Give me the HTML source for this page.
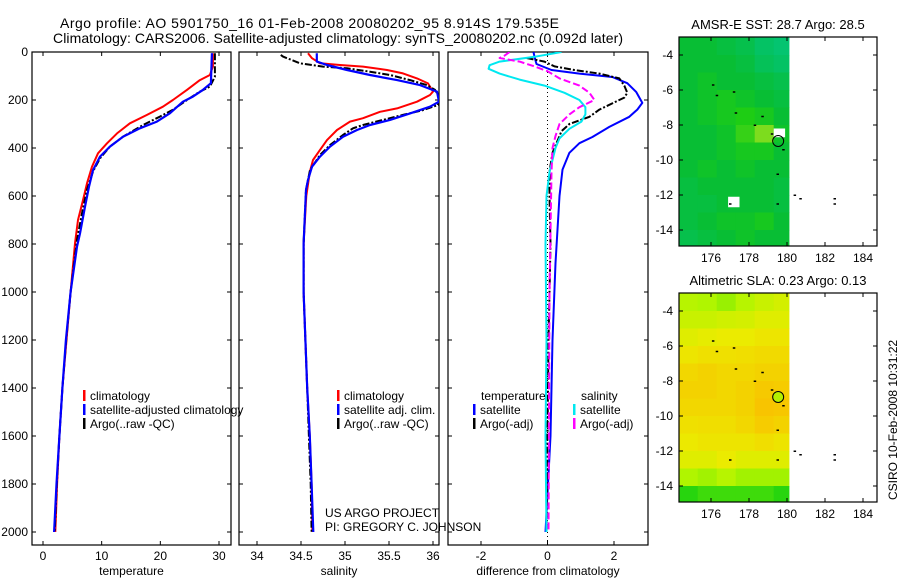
<!DOCTYPE html>
<html><head><meta charset="utf-8"><style>
html,body{margin:0;padding:0;background:#fff;}
svg{display:block;font-family:"Liberation Sans",sans-serif;}
</style></head><body>
<svg id="fig" width="900" height="580" viewBox="0 0 900 580">
<text x="60" y="28" font-size="14" textLength="499">Argo profile: AO 5901750_16 01-Feb-2008 20080202_95 8.914S 179.535E</text>
<text x="53" y="43" font-size="14" textLength="570">Climatology: CARS2006. Satellite-adjusted climatology: synTS_20080202.nc (0.092d later)</text>
<text x="325" y="517" font-size="12">US ARGO PROJECT</text>
<text x="325" y="531" font-size="12">PI: GREGORY C. JOHNSON</text>
<text transform="translate(897,420) rotate(-90)" text-anchor="middle" font-size="12">CSIRO 10-Feb-2008 10:31:22</text>
</svg>
<script>
// ---------- data ----------
const tClimD=[5,61,96,117,158,200,228,262,297,339,381,422,478,547,617,700,797,1000,1200,1400,1600,1800,2000];
const tClimV=[28.96,28.96,28.45,26.75,24.53,22.15,20.44,17.72,14.82,12.61,10.9,9.37,8.35,7.5,6.81,5.96,5.45,4.7,4.0,3.3,2.8,2.4,2.1];
const tSatD=[5,130,158,186,207,255,290,318,353,394,436,492,561,644,756,811,1000,1200,1400,1600,1800,2000];
const tSatV=[28.79,28.62,27.26,25.55,23.85,21.64,19.42,16.52,13.63,11.41,9.71,8.52,7.84,7.16,6.3,5.79,4.7,3.9,3.3,2.8,2.3,1.9];
const tArgD=[5,103,144,165,200,241,269,304,353,394,443,498,574,672,783,1000,1200,1400,1600,1800,2000];
const tArgV=[29.3,29.3,28.45,26.75,24.53,22.15,19.93,17.04,13.63,11.41,9.71,8.52,7.5,6.64,5.79,4.7,3.95,3.3,2.8,2.35,2.0];
const sClimD=[5,26,47,54,61,75,89,110,131,165,179,207,235,249,276,290,325,367,408,450,500,600,800,1000,1200,1400,1600,1800,2000];
const sClimV=[34.58,34.625,34.716,34.943,35.205,35.477,35.659,35.818,35.943,36.0,35.966,35.818,35.591,35.398,35.205,35.057,34.909,34.795,34.716,34.636,34.6,34.56,34.53,34.53,34.55,34.57,34.6,34.62,34.63];
const sSatD=[5,40,54,75,96,117,138,165,207,228,256,283,304,325,353,394,436,478,533,575,800,1000,1200,1400,1600,1800,2000];
const sSatV=[34.68,34.68,34.795,35.023,35.284,35.591,35.852,36.045,36.068,35.966,35.739,35.511,35.284,35.136,34.977,34.83,34.716,34.625,34.58,34.557,34.53,34.53,34.55,34.57,34.6,34.62,34.64];
const sArgD=[12,19,47,61,68,82,96,117,138,158,186,221,242,262,283,304,318,346,388,429,492,575,800,1000,1200,1400,1600,1800,2000];
const sArgV=[34.27,34.295,34.489,34.75,35.023,35.284,35.511,35.739,35.932,36.023,36.07,36.057,35.886,35.659,35.432,35.205,35.091,34.977,34.83,34.716,34.602,34.557,34.53,34.53,34.55,34.57,34.59,34.61,34.62];
const dTSatD=[0,20,50,75,90,104,130,167,212,240,270,312,354,380,420,490,600,880,1200,1600,2000];
const dTSatV=[-0.42,-0.39,-0.33,0.12,0.96,1.95,2.4,2.67,2.85,2.7,2.46,1.86,1.35,0.96,0.66,0.45,0.36,0.24,0.15,0.09,-0.06];
const dTArgD=[25,40,60,75,90,110,140,170,190,210,240,270,300,330,370,420,500,600,800,1200,2000];
const dTArgV=[-0.63,-0.09,0.21,0.81,1.56,2.16,2.31,2.4,2.31,2.01,1.56,1.26,0.66,0.42,0.3,0.15,0.06,0.06,0.09,0.03,-0.03];
const dSSatD=[0,20,40,55,70,90,115,140,170,200,230,260,290,320,360,400,450,500,600,800,1200,1600,2000];
const dSSatV=[0.42,-0.39,-1.44,-1.74,-1.77,-1.44,-0.84,-0.09,0.51,0.96,1.14,1.14,1.02,0.66,0.36,0.24,0.15,0.06,-0.03,-0.06,-0.03,-0.06,-0.03];
const dSArgD=[0,15,25,40,60,80,110,140,170,200,230,260,300,350,400,500,1000,2000];
const dSArgV=[-1.14,-1.29,-1.44,-0.84,-0.39,0,0.36,0.96,1.26,1.41,0.96,0.66,0.36,0.24,0.15,0.12,0.06,0.03];
const depthTicks=[0,200,400,600,800,1000,1200,1400,1600,1800,2000];
const tTicks=[0,10,20,30];
const sTicks=[34,34.5,35,35.5,36];
const dTicks=[-2,0,2];
const lonTicks=[176,178,180,182,184];
const latTicks=[-4,-6,-8,-10,-12,-14];
// map grids: rows from lat -3 (top) to -15, 1-degree cols from 174.3
const sstGrid=[
[0.45,0.45,0.4,0.35,0.25,0.2],[0.45,0.45,0.45,0.4,0.3,0.25],[0.45,0.5,0.45,0.45,0.4,0.35],
[0.45,0.5,0.55,0.5,0.45,0.4],[0.45,0.5,0.55,0.6,0.55,0.45],[0.45,0.45,0.5,0.65,0.8,0.5],
[0.45,0.45,0.5,0.55,0.55,0.45],[0.45,0.5,0.45,0.5,0.45,0.45],[0.4,0.45,0.45,0.45,0.45,0.4],
[0.4,0.4,0.45,0.45,0.45,0.4],[0.4,0.45,0.5,0.5,0.55,0.45],[0.35,0.4,0.45,0.5,0.45,0.45]];
const slaGrid=[
[0.38,0.35,0.3,0.38,0.45,0.5],[0.45,0.45,0.48,0.5,0.55,0.55],[0.55,0.58,0.6,0.6,0.65,0.65],
[0.65,0.7,0.7,0.72,0.75,0.75],[0.78,0.82,0.78,0.78,0.82,0.82],[0.82,0.82,0.78,0.82,0.9,0.88],
[0.78,0.78,0.78,0.82,0.95,0.92],[0.7,0.72,0.72,0.78,0.88,0.82],[0.62,0.66,0.66,0.66,0.72,0.66],
[0.55,0.55,0.6,0.55,0.55,0.55],[0.35,0.32,0.38,0.32,0.32,0.32],[0.05,0.1,0.1,0.1,0.1,0.05]];
const floatLon=179.535, floatLat=-8.914;
const coastLon=[176.1,176.3,177.2,177.3,178.3,178.7,179.2,179.8,179.5,177.0,179.5,180.4,180.7,182.5,182.5];
const coastLat=[-5.7,-6.3,-6.1,-7.3,-8.0,-7.5,-8.5,-9.4,-10.8,-12.5,-12.5,-12.0,-12.2,-12.2,-12.5];

// ---------- helpers ----------
const NS='http://www.w3.org/2000/svg';
const svg=document.getElementById('fig');
function mk(tag,attrs,parent){const e=document.createElementNS(NS,tag);for(const k in attrs)e.setAttribute(k,attrs[k]);(parent||svg).appendChild(e);return e;}
function lin(d0,d1,r0,r1){return v=>r0+(v-d0)*(r1-r0)/(d1-d0);}
const yDepth=lin(0,2000,52,532);

function panel(id,x0,x1,xs,xticks,label,showY){
  const g=mk('g',{});
  
  
  const cp=mk('clipPath',{id:'cp-'+id},g);mk('rect',{x:x0,y:52,width:x1-x0,height:493},cp);
  const fr=mk('rect',{x:x0,y:52,width:x1-x0,height:493,fill:'none',stroke:'#000','stroke-width':1.2},g);
  
  
  depthTicks.forEach(d=>{const y=yDepth(d);
    mk('line',{x1:x0,x2:x0+4,y1:y,y2:y,stroke:'#000'},g);mk('line',{x1:x1-4,x2:x1,y1:y,y2:y,stroke:'#000'},g);
    if(showY){const t=mk('text',{x:x0-4,y:y+4,'font-size':12,'text-anchor':'end'},g);t.textContent=d;
      
      }
  });
  xticks.forEach(v=>{const x=xs(v);
    mk('line',{x1:x,x2:x,y1:52,y2:56,stroke:'#000'},g);mk('line',{x1:x,x2:x,y1:541,y2:545,stroke:'#000'},g);
    const t=mk('text',{x:x,y:560,'font-size':12,'text-anchor':'middle'},g);t.textContent=v;
    
    
  });
  const xl=mk('text',{x:(x0+x1)/2,y:575,'font-size':12,'text-anchor':'middle'},g);xl.textContent=label;
  
  
  return g;
}
function series(g,id,xs,D,V,color,dash,w,name){
  const pts=D.map((d,i)=>xs(V[i]).toFixed(1)+','+yDepth(d).toFixed(1)).join(' ');
  const p=mk('polyline',{points:pts,fill:'none',stroke:color,'stroke-width':w||2,'clip-path':'url(#cp-'+id+')','stroke-linejoin':'round'},g);
  if(dash)p.setAttribute('stroke-dasharray',dash);
  
  
}
function legend(g,x,y,color,text,name){
  mk('rect',{x:x,y:y-10,width:2.5,height:11,fill:color},g);
  const t=mk('text',{x:x+7,y:y,'font-size':12},g);t.textContent=text;
  
  
}

// ---------- temperature panel ----------
const xT=lin(0,30,43,219);
const gT=panel('temperature',32,231,xT,tTicks,'temperature',true);
series(gT,'temperature',xT,tClimD,tClimV,'#f00',null,2,'temp-climatology-line');
series(gT,'temperature',xT,tArgD,tArgV,'#000','7,2,2,2',2,'temp-argo-line');
series(gT,'temperature',xT,tSatD,tSatV,'#0000ff',null,2.2,'temp-satellite-line');
legend(gT,83,400,'#f00','climatology','legend-climatology');
legend(gT,83,414,'#00f','satellite-adjusted climatology','legend-satellite-adjusted');
legend(gT,83,428,'#000','Argo(..raw -QC)','legend-argo');
// ---------- salinity panel ----------
const xS=lin(34,36,257,433);
const gS=panel('salinity',239,439,xS,sTicks,'salinity',false);
series(gS,'salinity',xS,sClimD,sClimV,'#f00',null,2,'sal-climatology-line');
series(gS,'salinity',xS,sArgD,sArgV,'#000','7,2,2,2',2,'sal-argo-line');
series(gS,'salinity',xS,sSatD,sSatV,'#0000ff',null,2.2,'sal-satellite-line');
legend(gS,337,400,'#f00','climatology','legend-sal-climatology');
legend(gS,337,414,'#00f','satellite adj. clim.','legend-sal-satellite');
legend(gS,337,428,'#000','Argo(..raw -QC)','legend-sal-argo');
// ---------- difference panel ----------
const xD=lin(-2,2,481,614);
const gD=panel('difference',448,648,xD,dTicks,'difference from climatology',false);
mk('line',{x1:xD(0),x2:xD(0),y1:52,y2:545,stroke:'#000','stroke-dasharray':'1,3'},gD);
series(gD,'difference',xD,dTSatD,dTSatV,'#0000ff',null,2,'diff-temp-satellite-line');
series(gD,'difference',xD,dTArgD,dTArgV,'#000','7,2,2,2',2,'diff-temp-argo-line');
series(gD,'difference',xD,dSSatD,dSSatV,'#00e8f0',null,2,'diff-sal-satellite-line');
series(gD,'difference',xD,dSArgD,dSArgV,'#ff00ff','7,3',2,'diff-sal-argo-line');
const tt=mk('text',{x:481,y:400,'font-size':12},gD);tt.textContent='temperature';


const st=mk('text',{x:581,y:400,'font-size':12},gD);st.textContent='salinity';


legend(gD,473,414,'#00f','satellite','legend-diff-temp-satellite');
legend(gD,473,428,'#000','Argo(-adj)','legend-diff-temp-argo');
legend(gD,573,414,'#00e8f0','satellite','legend-diff-sal-satellite');
legend(gD,573,428,'#f0f','Argo(-adj)','legend-diff-sal-argo');

// ---------- maps ----------
function interp(stops,v){v=Math.max(0,Math.min(1,v));for(let i=1;i<stops.length;i++){if(v<=stops[i][0]){const a=stops[i-1],b=stops[i],f=(v-a[0])/(b[0]-a[0]);
  return 'rgb('+[1,2,3].map(k=>Math.round(a[k]+(b[k]-a[k])*f)).join(',')+')';}}return 'rgb(0,0,0)';}
const sstStops=[[0,0,200,160],[0.45,8,190,52],[0.6,30,205,20],[1,220,235,40]];
const slaStops=[[0,16,208,16],[0.35,176,245,0],[0.6,235,235,0],[1,250,190,0]];
function map(id,top,title,grid,stops,circFill,whites){
  const g=mk('g',{});
  
  
  const bottom=top+209;
  const xm=lin(176,184,711,863), ym=lin(-4,-14,top+18,top+193);
  const cp=mk('clipPath',{id:'cp-'+id},g);mk('rect',{x:679,y:top,width:198,height:209},cp);
  const cg=mk('g',{'clip-path':'url(#cp-'+id+')'},g);
  grid.forEach((row,r)=>row.forEach((v,c)=>{
    const lon0=174.3+c, lon1=Math.min(180.1,lon0+1);
    const x=xm(lon0), w=xm(lon1)-x+0.5, y=ym(-3-r), h=ym(-4-r)-y+0.5;
    const cell=mk('rect',{x:x.toFixed(1),y:y.toFixed(1),width:w.toFixed(1),height:h.toFixed(1),fill:interp(stops,v)},cg);
    
    
  }));
  whites.forEach(wc=>{mk('rect',{x:xm(wc[0]),y:ym(wc[1]),width:wc[2]*19,height:wc[3]*17.5,fill:'#fff'},cg);});
  coastLon.forEach((lo,i)=>{const d=mk('rect',{x:xm(lo)-1,y:ym(coastLat[i])-0.5,width:2.5,height:1.5,fill:'#000'},cg);
    
    });
  const c=mk('circle',{cx:xm(floatLon),cy:ym(floatLat),r:5.5,fill:circFill,stroke:'#000','stroke-width':1},g);
  
  
  mk('rect',{x:679,y:top,width:198,height:209,fill:'none',stroke:'#000','stroke-width':1.2},g);
  lonTicks.forEach(v=>{const x=xm(v);mk('line',{x1:x,x2:x,y1:top,y2:top+4,stroke:'#000'},g);mk('line',{x1:x,x2:x,y1:bottom-4,y2:bottom,stroke:'#000'},g);
    const t=mk('text',{x:x,y:bottom+16,'font-size':12,'text-anchor':'middle'},g);t.textContent=v;
    
    });
  latTicks.forEach(v=>{const y=ym(v);mk('line',{x1:679,x2:683,y1:y,y2:y,stroke:'#000'},g);mk('line',{x1:873,x2:877,y1:y,y2:y,stroke:'#000'},g);
    const t=mk('text',{x:673,y:y+4,'font-size':12,'text-anchor':'end'},g);t.textContent=v;
    
    });
  const tl=mk('text',{x:778,y:top-8,'font-size':13,'text-anchor':'middle'},g);tl.textContent=title;
  
  
}
map('sst',37,'AMSR-E SST: 28.7 Argo: 28.5',sstGrid,sstStops,'none',[[179.3,-8.2,0.6,0.5],[176.9,-12.1,0.6,0.6]]);
map('sla',293,'Altimetric SLA: 0.23 Argo: 0.13',slaGrid,slaStops,'#b4f000',[]);
</script>
</body></html>
